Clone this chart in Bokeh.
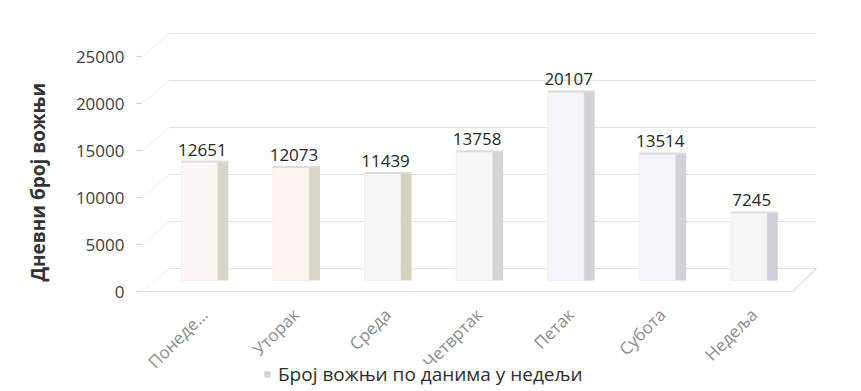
from bokeh.plotting import figure
from bokeh.models import (Range1d, LinearAxis, FixedTicker, ColumnDataSource,
                          LabelSet, Legend, LegendItem, Title)
from bokeh.core.properties import value
from bokeh.transform import dodge
from bokeh.embed import file_html
from bokeh.resources import INLINE

# ---------------- data ----------------
days = ["Понеде...", "Уторак", "Среда", "Четвртак", "Петак", "Субота", "Недеља"]
rides = [12651, 12073, 11439, 13758, 20107, 13514, 7245]
y_ticks = [0, 5000, 10000, 15000, 20000, 25000]
series_name = "Број вожњи по данима у недељи"
y_title = "Дневни број вожњи"

front_colors = ["#fcf6f4", "#fcf5f2", "#f7f6f5", "#f9f6f6", "#f5f4fb", "#f5f4fa", "#f6f5fa"]
side_colors = ["#d9d5c6", "#dad6c6", "#d6d2c2", "#d4d4d6", "#d3d3d6", "#d2d2d8", "#cfcfd6"]

# ---------------- layout constants ----------------
W, H = 861, 391
frame_left, frame_right = 140, 822
frame_top, frame_bottom = 26, 391
k = 0.0094                             # px per unit (vertical)
span = (frame_bottom - frame_top) / k

def yrange(zero_px):
    start = -(frame_bottom - zero_px) / k
    return Range1d(start, start + span)

x0_px, dx = 198, 91.7
x_range = Range1d((frame_left - x0_px) / dx, (frame_right - x0_px) / dx)

p = figure(width=W, height=H, output_backend="svg", toolbar_location=None,
           x_range=x_range, y_range=yrange(268), y_axis_location=None,
           x_axis_location=None,
           min_border_left=frame_left, min_border_right=W - frame_right,
           min_border_top=frame_top, min_border_bottom=H - frame_bottom)
p.extra_y_ranges = {"axis": yrange(291), "bars": yrange(280)}
p.outline_line_color = None
p.xgrid.visible = False
p.ygrid.visible = False

FONT = "Open Sans"

# y axis (front)
yax = LinearAxis(y_range_name="axis", ticker=FixedTicker(ticks=y_ticks))
yax.axis_line_color = None
yax.major_tick_line_color = "#d0d0d0"
yax.major_tick_out = 5
yax.major_tick_in = 0
yax.minor_tick_line_color = None
yax.major_label_text_font = FONT
yax.major_label_text_font_size = "17px"
yax.major_label_text_color = "#404040"
yax.major_label_standoff = 12
p.add_layout(yax, "left")

p.add_layout(Title(text=y_title, align="left", offset=frame_bottom - 281, standoff=44,
                   text_font=FONT, text_font_size="19px", text_font_style="bold",
                   text_color="#333333"), "left")

# 3D walls / grid
gx0 = (168 - x0_px) / dx
gx1 = (816 - x0_px) / dx
fx0 = (141 - x0_px) / dx
fx1 = (792 - x0_px) / dx
depth = 23 / k
n = len(y_ticks)
p.segment(x0=[gx0] * n, y0=y_ticks, x1=[gx1] * n, y1=y_ticks,
          line_color="#e4e4e4", line_width=1)
p.segment(x0=[fx0] * n, y0=[t - depth for t in y_ticks],
          x1=[gx0] * n, y1=y_ticks, line_color="#ececec", line_width=1)
p.segment(x0=[fx0, fx1], y0=[-depth, -depth], x1=[fx1, gx1], y1=[-depth, 0],
          line_color="#e0e0e0", line_width=1.2)

# category labels (rotated, under the floor)
xs = list(range(len(days)))
label_drop = 20 / k
p.text(x=xs, y=[-label_drop] * len(days), text=days, y_range_name="axis",
       angle=0.785, text_align="right", text_baseline="middle", x_offset=5,
       text_font=value(FONT), text_font_size="17px", text_color="#8c8c8c")

# bars
src = ColumnDataSource(dict(x=xs, top=rides, fc=front_colors, sc=side_colors,
                            lab=[str(v) for v in rides]))
fw = 36 / dx
sw = 11 / dx
side = p.vbar(x=dodge("x", fw / 2 + sw / 2), top="top", bottom=0, width=sw, source=src,
              y_range_name="bars", fill_color="sc", line_color=None)
p.vbar(x="x", top="top", bottom=0, width=fw, source=src, y_range_name="bars",
       fill_color="fc", line_color="#eeeeee", line_width=0.8)
p.vbar(x=dodge("x", sw / 2), top="top", bottom="top", width=fw + sw, source=src,
       y_range_name="bars", fill_color=None, line_color="#dcdcdc", line_width=2)

labels = LabelSet(x="x", y="top", text="lab", source=src, y_range_name="bars",
                  text_align="center", text_baseline="bottom", x_offset=3, y_offset=6,
                  text_font=value(FONT), text_font_size=value("17px"),
                  text_color=value("#262626"))
p.add_layout(labels)

# legend
leg = Legend(items=[LegendItem(label=series_name, renderers=[side], index=4)],
             location=(262 - frame_left, 4), orientation="horizontal",
             border_line_color=None, background_fill_alpha=0,
             padding=0, margin=0, spacing=0, label_standoff=7,
             glyph_width=8, glyph_height=8, label_height=18,
             label_text_font=FONT, label_text_font_size="19px",
             label_text_color="#2e2e2e")
p.add_layout(leg, "center")

open("out.html", "w").write(file_html(p, INLINE))
